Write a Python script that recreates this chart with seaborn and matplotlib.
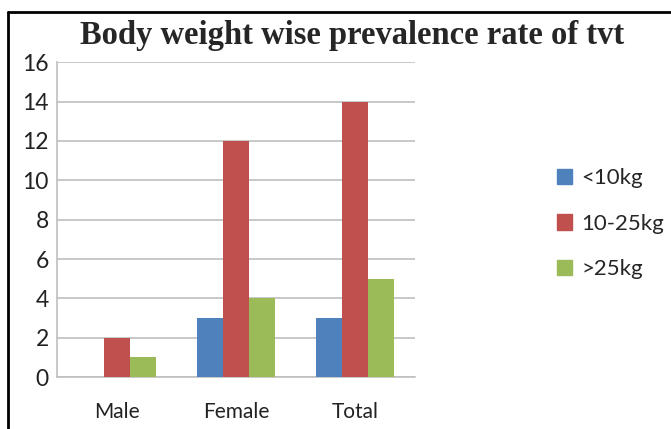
import numpy as np
import pandas as pd
import matplotlib
matplotlib.use("Agg")
import matplotlib.pyplot as plt
from matplotlib.lines import Line2D
import seaborn as sns

sns.set_style("white")
plt.rcParams['font.family'] = ['Lato', 'DejaVu Sans']

# data
groups = ['Male', 'Female', 'Total']
weight_classes = ['<10kg', '10-25kg', '>25kg']
under_10 = [0, 3, 3]
from_10_to_25 = [2, 12, 14]
over_25 = [1, 4, 5]
colors = ['#4F81BD', '#C0504D', '#9BBB59']

rows = []
for cls, vals in zip(weight_classes, [under_10, from_10_to_25, over_25]):
    for g, v in zip(groups, vals):
        rows.append({'group': g, 'weight': cls, 'count': v})
df = pd.DataFrame(rows)

fig = plt.figure(figsize=(6.71, 4.29), dpi=100)
ax = fig.add_axes([0.085, 0.121, 0.533, 0.734])

sns.barplot(data=df, x='group', y='count', hue='weight', hue_order=weight_classes,
            palette=colors, width=0.66, saturation=1, linewidth=0, edgecolor='none',
            gap=0, ax=ax, zorder=3)

ax.set_ylim(0, 16)
ax.set_yticks(np.arange(0, 17, 2))
ax.set_xlim(-0.5, 2.5)
ax.yaxis.grid(True, color='#BFBFBF', linewidth=1.2, zorder=0)
ax.set_axisbelow(True)
ax.set_xlabel('')
ax.set_ylabel('')
for s in ['top', 'right']:
    ax.spines[s].set_visible(False)
for s in ['left', 'bottom']:
    ax.spines[s].set_color('#BFBFBF')
    ax.spines[s].set_linewidth(1.2)
ax.tick_params(axis='both', length=0, colors='#222222')
ax.tick_params(axis='y', labelsize=16.5, pad=6)
ax.tick_params(axis='x', labelsize=15, pad=18)

fig.text(0.525, 0.918, 'Body weight wise prevalence rate of tvt', ha='center', va='center',
         fontsize=23.5, fontweight='bold', family='Liberation Serif')

handles = [plt.Rectangle((0, 0), 1, 1, color=c) for c in colors]
ax.get_legend().remove()
fig.legend(handles, weight_classes, loc='center left', bbox_to_anchor=(0.8, 0.478),
           frameon=False, fontsize=16, handlelength=0.7, handleheight=0.7,
           handletextpad=0.4, labelspacing=1.15)

# outer frame
fig.add_artist(Line2D([0.012, 1.0], [0.972, 0.972], color='black', linewidth=2))
fig.add_artist(Line2D([0.012, 0.012], [0.0, 0.972], color='black', linewidth=2))

fig.savefig('out.png', dpi=100)
